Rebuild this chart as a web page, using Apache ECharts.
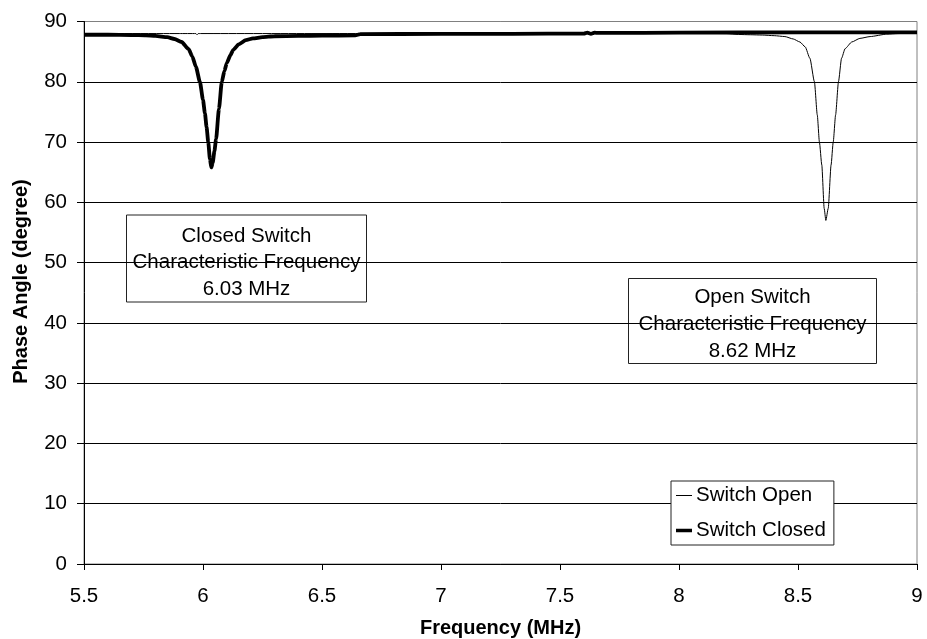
<!DOCTYPE html>
<html>
<head>
<meta charset="utf-8">
<script src="https://cdn.jsdelivr.net/npm/echarts@6/dist/echarts.min.js"></script>
<style>
  html, body { margin: 0; padding: 0; background: #fff; }
  #chart { width: 927px; height: 639px; }
</style>
</head>
<body>
<div id="chart"></div>
<script>
// Phase angle sweep of the sensor with the switch open and closed
var openFreq = [5.50, 5.90, 5.97, 5.975, 5.98, 6.00, 6.50, 7.00, 7.50, 8.00, 8.20, 8.25, 8.30, 8.35, 8.40,
  8.445, 8.48, 8.508, 8.53, 8.55, 8.569, 8.581, 8.59, 8.60, 8.610, 8.617, 8.627, 8.639, 8.648, 8.658,
  8.670, 8.683, 8.698, 8.726, 8.76, 8.803, 8.873, 8.92, 9.00];
var openPhase = [88.0, 88.0, 88.0, 87.8, 88.0, 88.0, 88.0, 88.0, 88.05, 88.05, 88.0, 87.85, 87.8, 87.75, 87.65,
  87.5, 87.1, 86.6, 85.8, 83.9, 80.0, 74.5, 70.0, 66.2, 59.0, 57.0, 59.0, 66.2, 70.0, 74.5,
  80.0, 83.9, 85.5, 86.6, 87.2, 87.5, 87.9, 88.0, 88.1];

var closedFreq = [5.50, 5.60, 5.70, 5.76, 5.80, 5.85, 5.88, 5.91, 5.94, 5.955, 5.97, 5.987, 6.00, 6.008,
  6.015, 6.022, 6.029, 6.035, 6.041, 6.048, 6.055, 6.067, 6.079, 6.09, 6.10, 6.115, 6.127, 6.15, 6.18,
  6.21, 6.25, 6.30, 6.40, 6.50, 6.64, 6.66, 7.00, 7.30, 7.60, 7.615, 7.63, 7.645, 7.66, 7.70, 8.00, 8.50, 9.00];
var closedPhase = [87.8, 87.8, 87.75, 87.7, 87.6, 87.4, 87.1, 86.6, 85.4, 84.2, 82.5, 80.0, 77.0, 74.8,
  72.5, 70.0, 67.2, 65.8, 66.6, 68.5, 70.5, 75.5, 80.0, 81.8, 83.1, 84.4, 85.3, 86.2, 86.9,
  87.2, 87.4, 87.55, 87.6, 87.65, 87.7, 87.9, 87.95, 87.95, 88.0, 88.15, 87.95, 88.15, 88.1, 88.1, 88.15, 88.2, 88.2];

var seriesNames = ['Switch Open', 'Switch Closed'];
var xTicks = { min: 5.5, max: 9, step: 0.5 };
var yTicks = { min: 0, max: 90, step: 10 };
var closedNote = ['Closed Switch', 'Characteristic Frequency', '6.03 MHz'];
var openNote = ['Open Switch', 'Characteristic Frequency', '8.62 MHz'];

function zip(xs, ys) {
  return xs.map(function (x, i) { return [x, ys[i]]; });
}

var FONT = '"Liberation Sans", Arial, sans-serif';
var chart = echarts.init(document.getElementById('chart'), null, { renderer: 'canvas' });

// grid split lines: black inside, grey along the top edge like the frame
var gridColors = [];
for (var i = 0; i < 9; i++) gridColors.push('#000');
gridColors.push('#808080');

// legend keys: a horizontal bar centred in a 16x20 box (tiny corner dots keep the box size)
function lineKey(thickness) {
  var a = 10 - thickness / 2, b = 10 + thickness / 2;
  return 'path://M0,0 L0.01,0 L0.01,0.01 Z M16,20 L15.99,20 L15.99,19.99 Z ' +
    'M0,' + a + ' L16,' + a + ' L16,' + b + ' L0,' + b + ' Z';
}

function noteBox(lines, left, top, w, h, lh, dy) {
  return {
    type: 'group',
    x: left,
    y: top,
    children: [
      { type: 'rect', shape: { x: 0, y: 0, width: w, height: h },
        style: { fill: '#fff', stroke: '#222', lineWidth: 1 } },
      { type: 'text', x: w / 2, y: h / 2 + dy,
        style: { text: lines.join('\n'), fill: '#000', font: '20.5px ' + FONT,
          align: 'center', verticalAlign: 'middle', lineHeight: lh } }
    ]
  };
}

chart.setOption({
  animation: false,
  backgroundColor: '#fff',
  grid: { left: 84, right: 10, top: 21.5, bottom: 75, show: true, borderColor: '#808080', borderWidth: 1,
    containLabel: false, outerBoundsMode: 'none' },
  xAxis: {
    type: 'value', min: xTicks.min, max: xTicks.max, interval: xTicks.step,
    name: 'Frequency (MHz)', nameLocation: 'middle', nameGap: 54,
    nameTextStyle: { color: '#000', fontFamily: FONT, fontSize: 20, fontWeight: 'bold' },
    axisLine: { show: true, onZero: false, lineStyle: { color: '#000', width: 1 } },
    axisTick: { show: true, inside: false, length: 6, lineStyle: { color: '#000' } },
    axisLabel: { color: '#000', fontFamily: FONT, fontSize: 20.5, margin: 22 },
    splitLine: { show: false }
  },
  yAxis: {
    type: 'value', min: yTicks.min, max: yTicks.max, interval: yTicks.step,
    axisLine: { show: true, lineStyle: { color: '#000', width: 1 } },
    axisTick: { show: true, inside: false, length: 7, lineStyle: { color: '#000' } },
    axisLabel: { color: '#000', fontFamily: FONT, fontSize: 20.5, margin: 17 },
    splitLine: { show: true, lineStyle: { color: gridColors, width: 1 } }
  },
  legend: {
    orient: 'vertical', left: 671, top: 481,
    data: [
      { name: seriesNames[0], icon: lineKey(1) },
      { name: seriesNames[1], icon: lineKey(3.6) }
    ],
    backgroundColor: '#fff', borderColor: '#222', borderWidth: 1,
    padding: [4, 8, 4, 5], itemGap: 14, itemWidth: 16, itemHeight: 20,
    itemStyle: { color: '#000', borderWidth: 0 },
    textStyle: { color: '#000', fontFamily: FONT, fontSize: 20.5, padding: [0, 0, 0, -1] }
  },
  series: [
    { name: seriesNames[0], type: 'line', data: zip(openFreq, openPhase), symbol: 'none',
      smooth: 0.2, smoothMonotone: 'x', lineStyle: { color: '#000', width: 1 }, itemStyle: { color: '#000' }, z: 2 },
    { name: seriesNames[1], type: 'line', data: zip(closedFreq, closedPhase), symbol: 'none',
      smooth: 0.2, smoothMonotone: 'x', lineStyle: { color: '#000', width: 3.8 }, itemStyle: { color: '#000' }, z: 3 }
  ],
  graphic: [
    { type: 'text', x: 21, y: 281.5, rotation: Math.PI / 2,
      style: { text: 'Phase Angle (degree)', fill: '#000', font: 'bold 20px ' + FONT,
        align: 'center', verticalAlign: 'middle' } },
    noteBox(closedNote, 126.5, 215, 240, 87, 26.5, 4),
    noteBox(openNote, 628.5, 278.5, 248, 85, 27, 3)
  ]
});
</script>
</body>
</html>
